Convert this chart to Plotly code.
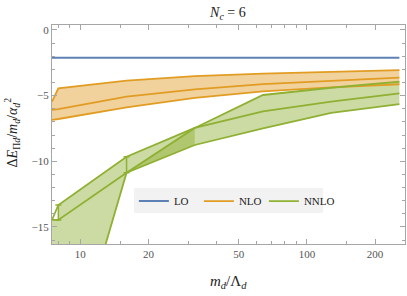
import numpy as np
import plotly.graph_objects as go

# ---- data ----
x_vals = [7.5, 8, 16, 32, 64, 128, 256]
lo_vals = [-2.12] * 7
nlo_upper = [-5.46, -4.44, -3.86, -3.52, -3.32, -3.17, -3.05]
nlo_mid = [-6.09, -6.02, -5.08, -4.52, -4.12, -3.85, -3.63]
nlo_lower = [-6.85, -6.78, -5.90, -5.17, -4.67, -4.37, -4.14]
nnlo_upper = [-14.47, -13.33, -9.65, -7.46, -4.95, -4.40, -3.94]
nnlo_mid = [-14.47, -14.47, -10.87, -7.46, -6.20, -5.45, -4.82]
nnlo_lower = [-28.6, -28.6, -10.87, -8.76, -7.50, -6.32, -5.65]

x_ticks = [10, 20, 50, 100, 200]
x_minor = [8, 9, 15, 30, 40, 60, 70, 80, 90, 150]
y_ticks = [0, -5, -10, -15]
y_minor = [v for v in range(0, -17, -1) if v % 5 != 0]

BLUE = "#5e81b5"
ORANGE = "#e19c24"
GREEN = "#8fb032"
ORANGE_FILL = "rgba(225,156,36,0.45)"
GREEN_FILL = "rgba(143,176,50,0.45)"
SERIF = "Liberation Serif, DejaVu Serif, serif"

fig = go.Figure()

def fill_between(xs, top, bottom, color):
    fig.add_trace(go.Scatter(x=xs, y=bottom, mode="lines", line=dict(width=0),
                             showlegend=False, hoverinfo="skip"))
    fig.add_trace(go.Scatter(x=xs, y=top, mode="lines", line=dict(width=0),
                             fill="tonexty", fillcolor=color,
                             showlegend=False, hoverinfo="skip"))

# NLO band
fill_between(x_vals, nlo_upper, nlo_lower, ORANGE_FILL)
# NNLO bands
fill_between(x_vals, nnlo_mid, nnlo_lower, GREEN_FILL)
fill_between(x_vals[1:], nnlo_upper[1:], nnlo_mid[1:], GREEN_FILL)
fill_between(x_vals[2:4], nnlo_mid[2:4], nnlo_lower[2:4], GREEN_FILL)

# lines
fig.add_trace(go.Scatter(x=x_vals, y=lo_vals, mode="lines", name="LO",
                         line=dict(color=BLUE, width=2)))
for i, ys in enumerate([nlo_upper, nlo_mid, nlo_lower]):
    fig.add_trace(go.Scatter(x=x_vals, y=ys, mode="lines", name="NLO",
                             showlegend=(i == 0), line=dict(color=ORANGE, width=1.8)))
for i, ys in enumerate([nnlo_upper, nnlo_mid, nnlo_lower]):
    fig.add_trace(go.Scatter(x=x_vals, y=ys, mode="lines", name="NNLO",
                             showlegend=(i == 0), line=dict(color=GREEN, width=1.8)))
# invisible spacer legend entry (keeps the last label from being clipped)
fig.add_trace(go.Scatter(x=x_vals[:1], y=lo_vals[:1], mode="lines", name=" ",
                         line=dict(width=0, color="rgba(0,0,0,0)"), hoverinfo="skip"))

# error bars at 8 and 16
eb_x = x_vals[1:3]
eb_mid = nnlo_mid[1:3]
eb_up = [u - m for u, m in zip(nnlo_upper[1:3], nnlo_mid[1:3])]
fig.add_trace(go.Scatter(x=eb_x, y=eb_mid, mode="markers", marker=dict(size=1, color=GREEN),
                         showlegend=False,
                         error_y=dict(type="data", symmetric=False, array=eb_up,
                                      arrayminus=[0, 0], color=GREEN, thickness=1.5, width=3)))

axis_common = dict(showline=True, linecolor="#a6a6a6", linewidth=1, mirror="allticks",
                   ticks="inside", ticklen=5, tickcolor="#a6a6a6", showgrid=False,
                   zeroline=False, tickfont=dict(family=SERIF, size=11, color="#555555"))

fig.update_xaxes(type="log", range=[np.log10(7.5), np.log10(271)],
                 tickvals=x_ticks, ticktext=[str(v) for v in x_ticks],
                 minor=dict(tickvals=x_minor, ticklen=3, tickcolor="#a6a6a6", ticks="inside"),
                 **axis_common)
fig.update_yaxes(range=[-16.3, 0.38], tickvals=y_ticks,
                 minor=dict(tickvals=y_minor, ticklen=3, tickcolor="#a6a6a6", ticks="inside"),
                 **axis_common)

fig.update_layout(
    width=407, height=296,
    margin=dict(l=52, r=2, t=25, b=52),
    font=dict(family=SERIF, color="#222222"),
    plot_bgcolor="white", paper_bgcolor="white",
    legend=dict(orientation="h", x=0.232, y=0.262, xanchor="left", yanchor="top",
                bgcolor="rgba(0,0,0,0)", font=dict(family=SERIF, size=11, color="#222222"),
                itemwidth=30, tracegroupgap=0, traceorder="normal", entrywidth=20),
    shapes=[dict(type="rect", xref="paper", yref="paper", x0=0.2323, x1=0.7677,
                 y0=0.1416, y1=0.2557, fillcolor="#f2f2f2", line=dict(width=0),
                 layer="above")],
    title=dict(text="<i>N<sub>c</sub></i> = 6", x=0.56, xref="container", y=0.96,
               yanchor="middle", font=dict(family=SERIF, size=14, color="#222222")),
    annotations=[
        dict(text="<i>m<sub>d</sub></i>/Λ<sub><i>d</i></sub>", xref="paper", yref="paper",
             x=0.5, y=-0.175, showarrow=False, yanchor="middle",
             font=dict(family=SERIF, size=15, color="#222222")),
        dict(text="Δ<i>E</i><sub>Π<i>d</i></sub>/<i>m<sub>d</sub></i>/<i>α</i><sub><i>d</i></sub><sup>2</sup>",
             xref="paper", yref="paper", x=-0.113, y=0.51, showarrow=False, textangle=-90,
             xanchor="center", yanchor="middle",
             font=dict(family=SERIF, size=14, color="#222222")),
    ],
)

fig.write_html("out.html", post_script="document.body.style.margin='0';",
               config={"displayModeBar": False})
